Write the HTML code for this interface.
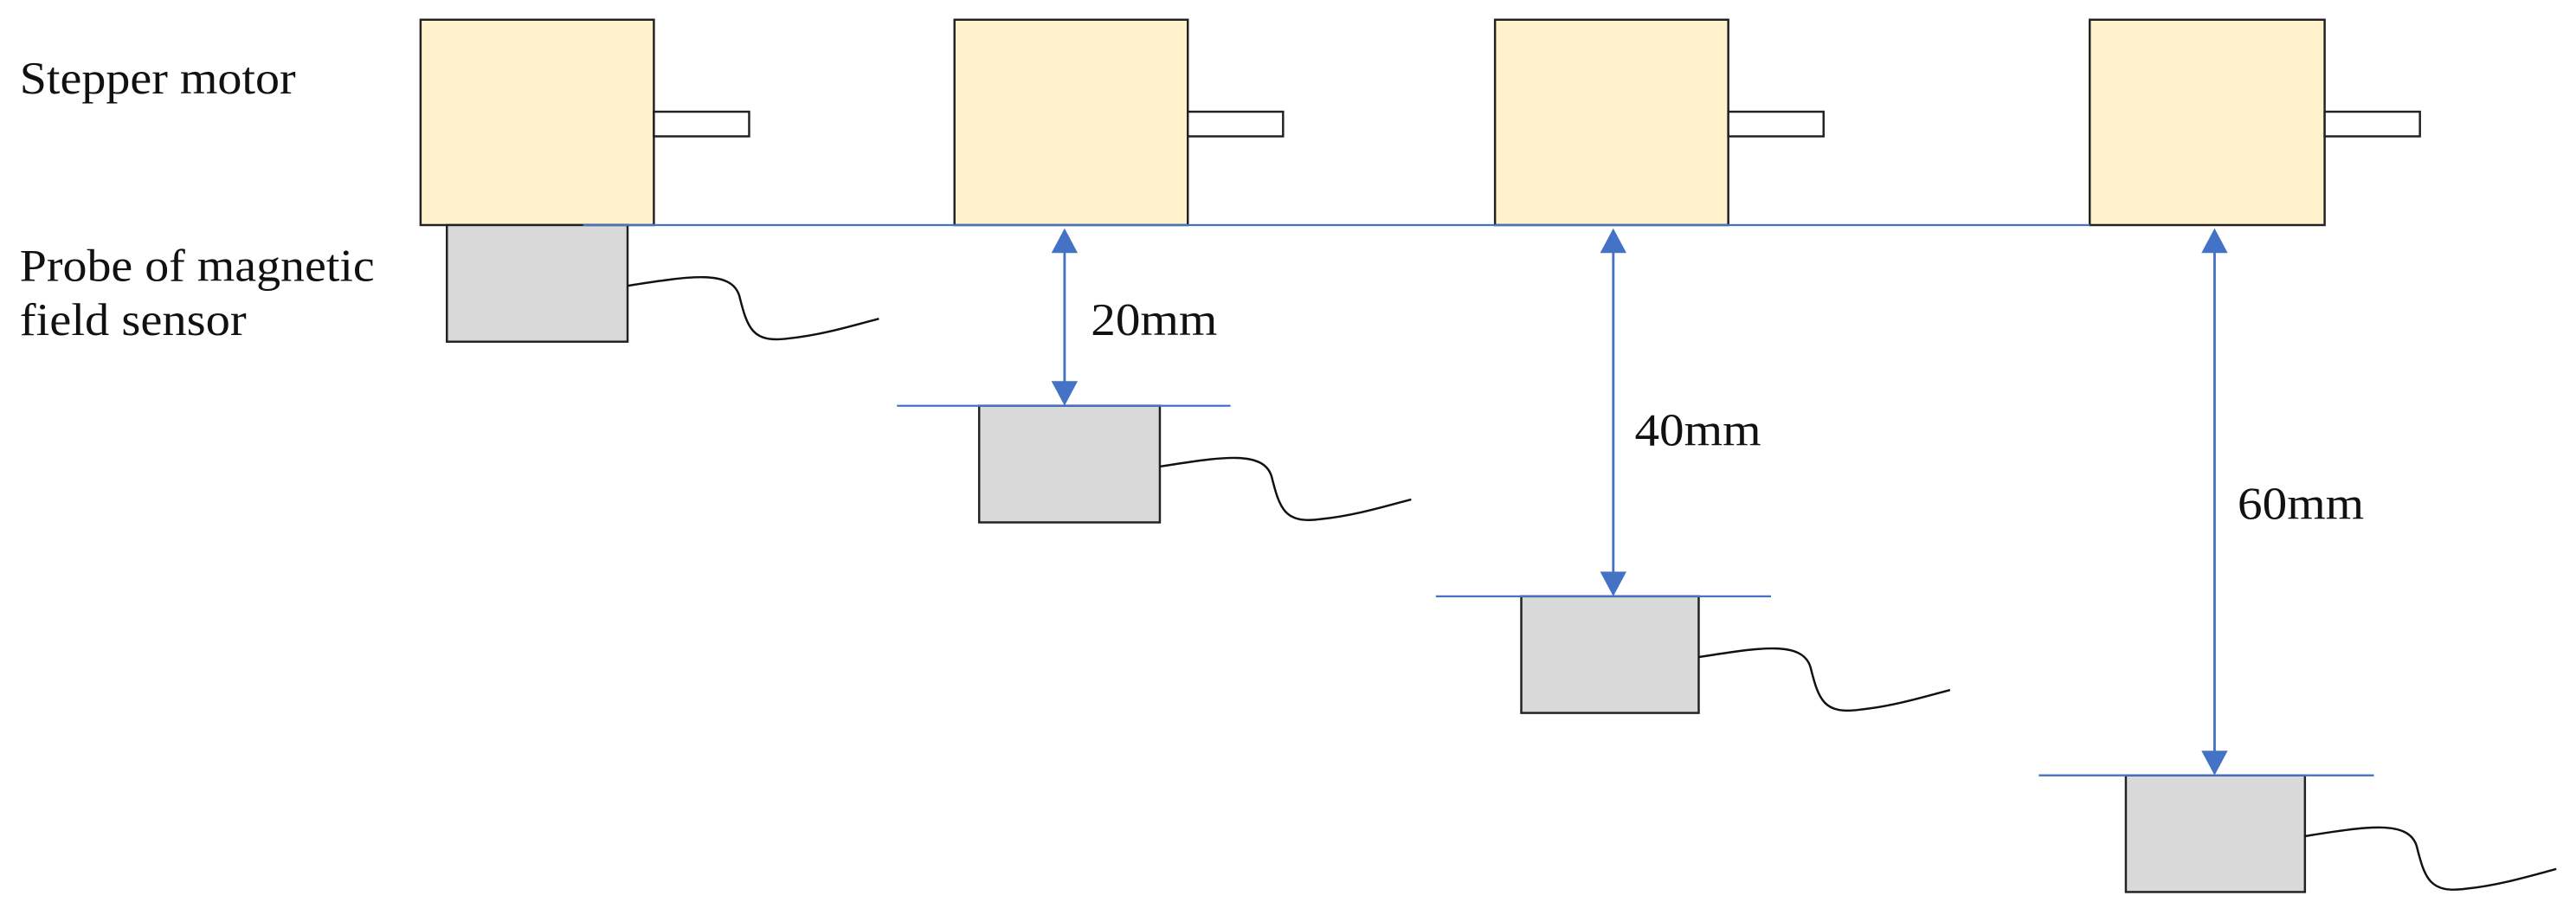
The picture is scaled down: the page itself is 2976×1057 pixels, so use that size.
<!DOCTYPE html>
<html><head><meta charset="utf-8"><style>
html,body{margin:0;padding:0;background:#fff;}
svg{display:block;}
text{font-family:"Liberation Serif",serif;font-size:28px;fill:#111;}
</style></head><body>
<svg width="2976" height="1057" viewBox="0 0 1568 557" preserveAspectRatio="none" xmlns="http://www.w3.org/2000/svg">
<text x="12" y="57" textLength="168" lengthAdjust="spacingAndGlyphs">Stepper motor</text>
<text x="12" y="171" textLength="216" lengthAdjust="spacingAndGlyphs">Probe of magnetic</text>
<text x="12" y="204" textLength="138" lengthAdjust="spacingAndGlyphs">field sensor</text>

<g stroke="#222" stroke-width="1.3">
<rect x="256" y="12" width="142" height="125" fill="#FFF2CC"/>
<rect x="398" y="68" width="58" height="15" fill="#fff"/>
<rect x="581" y="12" width="142" height="125" fill="#FFF2CC"/>
<rect x="723" y="68" width="58" height="15" fill="#fff"/>
<rect x="910" y="12" width="142" height="125" fill="#FFF2CC"/>
<rect x="1052" y="68" width="58" height="15" fill="#fff"/>
<rect x="1272" y="12" width="143" height="125" fill="#FFF2CC"/>
<rect x="1415" y="68" width="58" height="15" fill="#fff"/>

<rect x="272" y="137" width="110" height="71" fill="#D9D9D9"/>
<rect x="596" y="247" width="110" height="71" fill="#D9D9D9"/>
<rect x="926" y="363" width="108" height="71" fill="#D9D9D9"/>
<rect x="1294" y="472" width="109" height="71" fill="#D9D9D9"/>
</g>

<g fill="none" stroke="#111" stroke-width="1.3">
<path d="M382,174 C420,168 445,164 450,180 C455,200 458,209 480,206 C500,204 520,198 535,194"/>
<path d="M706,284 C744,278 769,274 774,290 C779,310 782,319 804,316 C824,314 844,308 859,304"/>
<path d="M1034,400 C1072,394 1097,390 1102,406 C1107,426 1110,435 1132,432 C1152,430 1172,424 1187,420"/>
<path d="M1403,509 C1441,503 1466,499 1471,515 C1476,535 1479,544 1501,541 C1521,539 1541,533 1556,529"/>
</g>

<g stroke="#4472C4" stroke-width="1.2" fill="none">
<line x1="355" y1="137" x2="1272" y2="137"/>
<line x1="546" y1="247" x2="749" y2="247"/>
<line x1="874" y1="363" x2="1078" y2="363"/>
<line x1="1241" y1="472" x2="1445" y2="472"/>
<line x1="648" y1="150" x2="648" y2="236" stroke-width="1.5"/>
<line x1="982" y1="150" x2="982" y2="352" stroke-width="1.5"/>
<line x1="1348" y1="150" x2="1348" y2="461" stroke-width="1.5"/>
</g>
<g fill="#4472C4">
<polygon points="648,139 640,154 656,154"/>
<polygon points="648,247 640,232 656,232"/>
<polygon points="982,139 974,154 990,154"/>
<polygon points="982,363 974,348 990,348"/>
<polygon points="1348,139 1340,154 1356,154"/>
<polygon points="1348,472 1340,457 1356,457"/>
</g>

<text x="664" y="204" textLength="77" lengthAdjust="spacingAndGlyphs">20mm</text>
<text x="995" y="271" textLength="77" lengthAdjust="spacingAndGlyphs">40mm</text>
<text x="1362" y="316" textLength="77" lengthAdjust="spacingAndGlyphs">60mm</text>
</svg>
</body></html>
